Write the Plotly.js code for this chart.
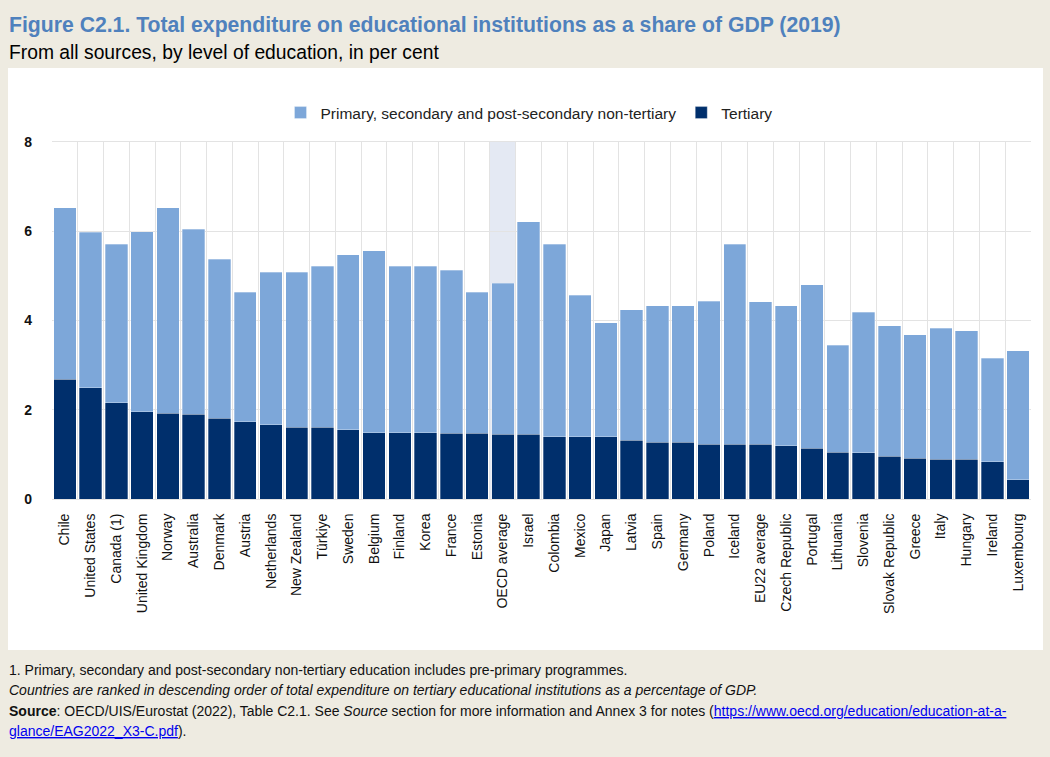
<!DOCTYPE html>
<html>
<head>
<meta charset="utf-8">
<script src="https://cdn.plot.ly/plotly-3.0.1.min.js"></script>
<style>
  html, body { margin: 0; padding: 0; background: #EEEBE1; }
  #chart { width: 1050px; height: 757px; }
</style>
</head>
<body>
<div id="chart"></div>
<script>
// ---- data ----
const countries = ["Chile","United States","Canada (1)","United Kingdom","Norway","Australia","Denmark","Austria","Netherlands","New Zealand","Türkiye","Sweden","Belgium","Finland","Korea","France","Estonia","OECD average","Israel","Colombia","Mexico","Japan","Latvia","Spain","Germany","Poland","Iceland","EU22 average","Czech Republic","Portugal","Lithuania","Slovenia","Slovak Republic","Greece","Italy","Hungary","Ireland","Luxembourg"];
const tertiary = [2.68,2.49,2.16,1.96,1.92,1.90,1.81,1.73,1.66,1.61,1.61,1.55,1.49,1.49,1.49,1.47,1.47,1.45,1.45,1.39,1.39,1.39,1.32,1.27,1.27,1.23,1.23,1.23,1.19,1.14,1.05,1.04,0.96,0.91,0.89,0.89,0.83,0.43];
const primarySecondary = [3.85,3.49,3.55,4.03,4.61,4.14,3.56,2.90,3.42,3.47,3.61,3.92,4.07,3.73,3.73,3.66,3.16,3.38,4.76,4.32,3.18,2.56,2.92,3.06,3.06,3.20,4.48,3.19,3.14,3.66,2.40,3.14,2.92,2.77,2.94,2.88,2.32,2.89];
const seriesNames = ["Primary, secondary and post-secondary non-tertiary", "Tertiary"];
const yTicks = [0, 2, 4, 6, 8];
const highlighted = "OECD average";

const FONT = "Liberation Sans, Arial, sans-serif";

const traces = [
  {
    type: "bar", name: seriesNames[1], x: countries, y: tertiary,
    marker: { color: "#002F6C", line: { color: "rgba(255,255,255,0.5)", width: 0.6 } },
    hoverinfo: "x+y+name"
  },
  {
    type: "bar", name: seriesNames[0], x: countries, y: primarySecondary,
    marker: { color: "#7DA7D9", line: { color: "rgba(255,255,255,0.5)", width: 0.6 } },
    hoverinfo: "x+y+name"
  }
];

const hi = countries.indexOf(highlighted);

const footLines = [
  "1. Primary, secondary and post-secondary non-tertiary education includes pre-primary programmes.",
  "<i>Countries are ranked in descending order of total expenditure on tertiary educational institutions as a percentage of GDP.</i>",
  "<b>Source</b>: OECD/UIS/Eurostat (2022), Table C2.1. See <i>Source</i> section for more information and Annex 3 for notes (<span style=\"fill:#0000EE;text-decoration:underline\">https://www.oecd.org/education/education-at-a-</span>",
  "<span style=\"fill:#0000EE;text-decoration:underline\">glance/EAG2022_X3-C.pdf</span>)."
];
const footY = [670, 690, 711, 731];

// geometry helpers (pixel -> paper)
const L = 52, R = 19, T = 142, B = 258, W = 1050, H = 757;
const pw = W - L - R, ph = H - T - B;
const px = v => (v - L) / pw;
const py = v => (H - B - v) / ph;

const annotations = [
  { text: "<b>Figure C2.1. Total expenditure on educational institutions as a share of GDP (2019)</b>",
    xref: "paper", yref: "paper", x: px(7), y: py(25), xanchor: "left", yanchor: "middle",
    showarrow: false, font: { family: FONT, size: 21.2, color: "#4F81BD" } },
  { text: "From all sources, by level of education, in per cent",
    xref: "paper", yref: "paper", x: px(7), y: py(52), xanchor: "left", yanchor: "middle",
    showarrow: false, font: { family: FONT, size: 19.3, color: "#000000" } }
];
footLines.forEach((t, i) => annotations.push({
  text: t, xref: "paper", yref: "paper", x: px(7), y: py(footY[i]), xanchor: "left", yanchor: "middle",
  showarrow: false, font: { family: FONT, size: 14, color: "#111111" }
}));

const layout = {
  width: W, height: H,
  margin: { l: L, r: R, t: T, b: B },
  paper_bgcolor: "#EEEBE1",
  plot_bgcolor: "rgba(0,0,0,0)",
  barmode: "stack",
  bargap: 0.13,
  showlegend: true,
  legend: {
    orientation: "h", traceorder: "reversed",
    x: px(529), xanchor: "center", y: py(113), yanchor: "middle",
    font: { family: FONT, size: 15.5, color: "#222" },
    bgcolor: "rgba(0,0,0,0)", itemwidth: 30
  },
  xaxis: {
    type: "category", tickson: "boundaries", showgrid: true, gridcolor: "#E3E3E3", gridwidth: 1,
    tickangle: -90, ticks: "", ticklabelstandoff: 8,
    tickfont: { family: FONT, size: 14, color: "#111" },
    showline: true, linecolor: "#E3E3E3", mirror: true, zeroline: false,
    range: [-0.5, countries.length - 0.5]
  },
  yaxis: {
    range: [0, 8], tickvals: yTicks, showgrid: true, gridcolor: "#E3E3E3", gridwidth: 1,
    zeroline: false, ticks: "", ticklabelstandoff: 19,
    tickfont: { family: FONT, size: 14, color: "#111", weight: "bold" },
    showline: false
  },
  shapes: [
    { type: "rect", xref: "paper", yref: "paper", x0: px(8), x1: px(1043), y0: py(650), y1: py(68),
      fillcolor: "#FFFFFF", line: { width: 0 }, layer: "below" },
    { type: "rect", xref: "x", yref: "y", x0: hi - 0.5, x1: hi + 0.5, y0: 0, y1: 8,
      fillcolor: "#E4E9F3", line: { width: 0 }, layer: "below" }
  ],
  annotations: annotations
};

Plotly.newPlot("chart", traces, layout, { displayModeBar: false, responsive: false });
</script>
</body>
</html>
